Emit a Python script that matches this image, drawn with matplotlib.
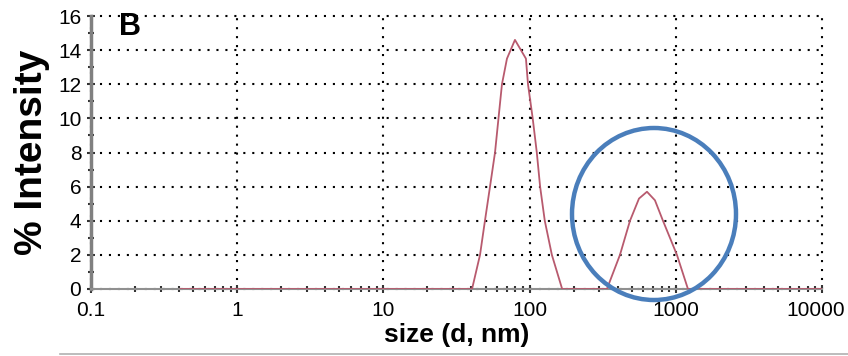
import numpy as np
import matplotlib
matplotlib.use('Agg')
import matplotlib.pyplot as plt
import matplotlib.transforms as mtransforms
from matplotlib.patches import Ellipse
from matplotlib.lines import Line2D
from matplotlib.ticker import LogLocator, FixedLocator

plt.rcParams['font.family'] = ['Liberation Sans', 'DejaVu Sans']

# size distribution (d, nm) vs % intensity
size_nm = [0.41, 1, 10, 40.4, 45.8, 49.5, 53.6, 58.0, 64.7, 70.0, 79.4,
           94.4, 97.5, 105, 112, 118, 127, 142, 167,
           338, 415, 486, 560, 635, 720, 817, 1018, 1211, 10000]
intensity = [0, 0, 0, 0, 2.0, 4.0, 6.0, 8.0, 12.0, 13.5, 14.6,
             13.5, 12.0, 10.0, 8.0, 6.0, 4.0, 2.0, 0,
             0, 2.0, 4.0, 5.3, 5.7, 5.2, 4.0, 2.0, 0, 0]

x_ticks = [0.1, 1, 10, 100, 1000, 10000]
x_tick_labels = ['0.1', '1', '10', '100', '1000', '10000']
y_ticks = [0, 2, 4, 6, 8, 10, 12, 14, 16]

fig = plt.figure(figsize=(8.48, 3.56), dpi=100)
ax = fig.add_axes([91/848, 67/356, 731/848, 273/356])

ax.plot(size_nm, intensity, color='#b85a6e', lw=1.3, zorder=4)

ax.set_xscale('log')
ax.set_xlim(0.1, 10000)
ax.set_ylim(0, 16)
ax.set_xticks(x_ticks)
ax.set_xticklabels(x_tick_labels)
ax.set_yticks(y_ticks)
ax.xaxis.set_minor_locator(LogLocator(base=10, subs=np.arange(2, 10)))
ax.yaxis.set_minor_locator(FixedLocator(np.arange(1, 16, 2)))

ax.grid(True, which='major', color='black', linestyle=(0, (1, 3.3)), lw=1.5)
for gl in ax.get_xgridlines() + ax.get_ygridlines():
    gl.set_clip_on(False)

ax.tick_params(axis='both', which='major', labelsize=15, direction='inout',
               length=6, width=1.5, color='#333333', pad=4)
ax.tick_params(axis='both', which='minor', direction='inout',
               length=4, width=1.5, color='#333333')
ax.tick_params(axis='x', which='major', pad=6)

# last x label sits a little left of its tick so it stays inside the figure
last = ax.get_xticklabels()[-1]
last.set_transform(last.get_transform() +
                   mtransforms.ScaledTranslation(-6/100, 0, fig.dpi_scale_trans))

for s in ['top', 'right']:
    ax.spines[s].set_visible(False)
ax.spines['left'].set_color('#808080')
ax.spines['left'].set_linewidth(2.5)
ax.spines['bottom'].set_color('#909090')
ax.spines['bottom'].set_linewidth(1.5)

ax.set_xlabel('size (d, nm)', fontsize=19, fontweight='bold', labelpad=2)
ax.set_ylabel('% Intensity', fontsize=28, fontweight='bold', labelpad=6)

ax.text(0.038, 1.015, 'B', transform=ax.transAxes, fontsize=22,
        fontweight='bold', va='top', ha='left')

circle = Ellipse((654/848, (356-214)/356), 164/848, 172/356,
                 transform=fig.transFigure, fill=False, edgecolor='#4a7ebb',
                 lw=3.2, zorder=6)
fig.add_artist(circle)

fig.add_artist(Line2D([60/848, 1], [2/356, 2/356], transform=fig.transFigure,
                      color='#b0b0b0', lw=1.2))

fig.savefig('out.png', dpi=100)
